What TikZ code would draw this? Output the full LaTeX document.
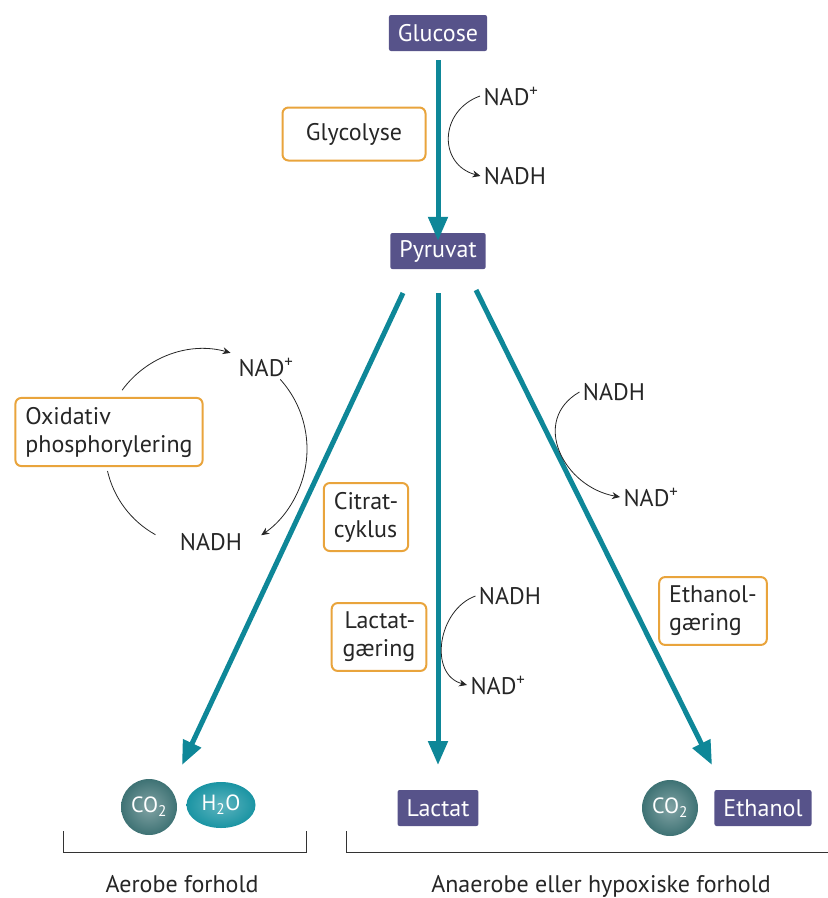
\documentclass[tikz,border=0pt]{standalone}
\usepackage{fontspec}
\setmainfont{PT Sans}
\usetikzlibrary{arrows.meta,shapes.geometric,calc}
\definecolor{petrol}{HTML}{0E8798}
\definecolor{lilla}{HTML}{57538A}
\definecolor{okker}{HTML}{E9A43C}
\definecolor{co2grey}{HTML}{3E7274}
\definecolor{vandblaa}{HTML}{1A94A3}
\begin{document}
\begin{tikzpicture}[x=1pt,y=1pt,
  every node/.style={font=\fontsize{24}{28}\selectfont,text=black!85},
  stof/.style={fill=lilla,text=white,rounded corners=2pt,minimum height=36pt,inner xsep=9pt},
  proces/.style={draw=okker,line width=2pt,fill=white,rounded corners=6pt,inner xsep=10pt,inner ysep=9pt},
  hovedpil/.style={petrol,line width=5pt,-{Triangle[length=24pt,width=19pt]}},
  tyndpil/.style={black!85,line width=0.8pt,-{Stealth[length=8pt,width=7pt]}},
  co2kugle/.style={circle,minimum size=56pt,inner sep=0pt,text=white,inner color=co2grey!65,outer color=co2grey,font=\fontsize{22}{26}\selectfont}]
  \useasboundingbox (0,0) rectangle (828,-898);
  % stoffer
  \node[stof] (glucose) at (438,-33) {Glucose};
  \node[stof] (pyruvat) at (438,-251) {Pyruvat};
  \node[stof] (lactat) at (438,-808) {Lactat};
  \node[stof] (ethanol) at (763,-808) {Ethanol};
  \node[co2kugle] (co2a) at (149,-807) {CO\textsubscript{2}};
  \node[ellipse,minimum width=69pt,minimum height=46pt,inner sep=0pt,text=white,inner color=vandblaa!70,outer color=vandblaa,font=\fontsize{22}{26}\selectfont] (h2o) at (221,-805) {H\textsubscript{2}O};
  \node[co2kugle] (co2b) at (670,-808) {CO\textsubscript{2}};
  % processer
  \node[proces,minimum width=143pt,minimum height=53pt] (glycolyse) at (354,-134) {Glycolyse};
  \node[proces,align=left] (oxphos) at (109,-432) {Oxidativ\\phosphorylering};
  \node[proces,align=left] (citrat) at (366,-517) {Citrat-\\cyklus};
  \node[proces,align=right,inner xsep=11pt] (lactatg) at (379,-637) {Lactat-\\gæring};
  \node[proces,align=left] (ethanolg) at (713,-611) {Ethanol-\\gæring};
  % NAD
  \node (nadA) at (511,-96) {NAD\textsuperscript{+}};
  \node (nadhA) at (515,-176) {NADH};
  \node (nadB) at (266,-367) {NAD\textsuperscript{+}};
  \node (nadhB) at (211,-542) {NADH};
  \node (nadhC) at (510,-596) {NADH};
  \node (nadC) at (498,-685) {NAD\textsuperscript{+}};
  \node (nadhD) at (614,-392) {NADH};
  \node (nadD) at (651,-497) {NAD\textsuperscript{+}};
  % hovedpile
  \draw[hovedpil] ($(glucose.south)+(0,-9)$) -- ($(pyruvat.north)+(0,-8)$);
  \coordinate (venstre) at (182,-765);
  \coordinate (midt) at (438,-765);
  \coordinate (hoejre) at (712,-765);
  \draw[hovedpil] (403,-293) -- (venstre);
  \draw[hovedpil] (438,-293) -- (midt);
  \draw[hovedpil] (476,-290) -- (hoejre);
  % NAD/NADH pile
  \draw[tyndpil] (nadA.west) to[out=200,in=165,looseness=1.4] (nadhA.west);
  \draw[tyndpil] (nadhC.west) to[out=200,in=165,looseness=1.15] (nadC.west);
  \draw[tyndpil] (nadhD.west) to[out=210,in=170,looseness=1.3] (nadD.west);
  \draw[tyndpil] (203,-449) ++(144:100) arc (144:74:100);
  \draw[tyndpil] (203,-449) ++(42:104) arc (42:-56:104);
  \draw[black!85,line width=0.8pt] (203,-449) ++(193:98) arc (193:241:98);
  % forhold
  \draw[black!80,line width=0.9pt] (63,-831) |- (306,-852) -- (306,-831);
  \draw[black!80,line width=0.9pt] (346,-831) |- (828,-852);
  \node[anchor=base,inner sep=0pt] (aerob) at (182,-892) {Aerobe forhold};
  \node[anchor=base,inner sep=0pt] (anaerob) at (601,-892) {Anaerobe eller hypoxiske forhold};
\end{tikzpicture}
\end{document}
